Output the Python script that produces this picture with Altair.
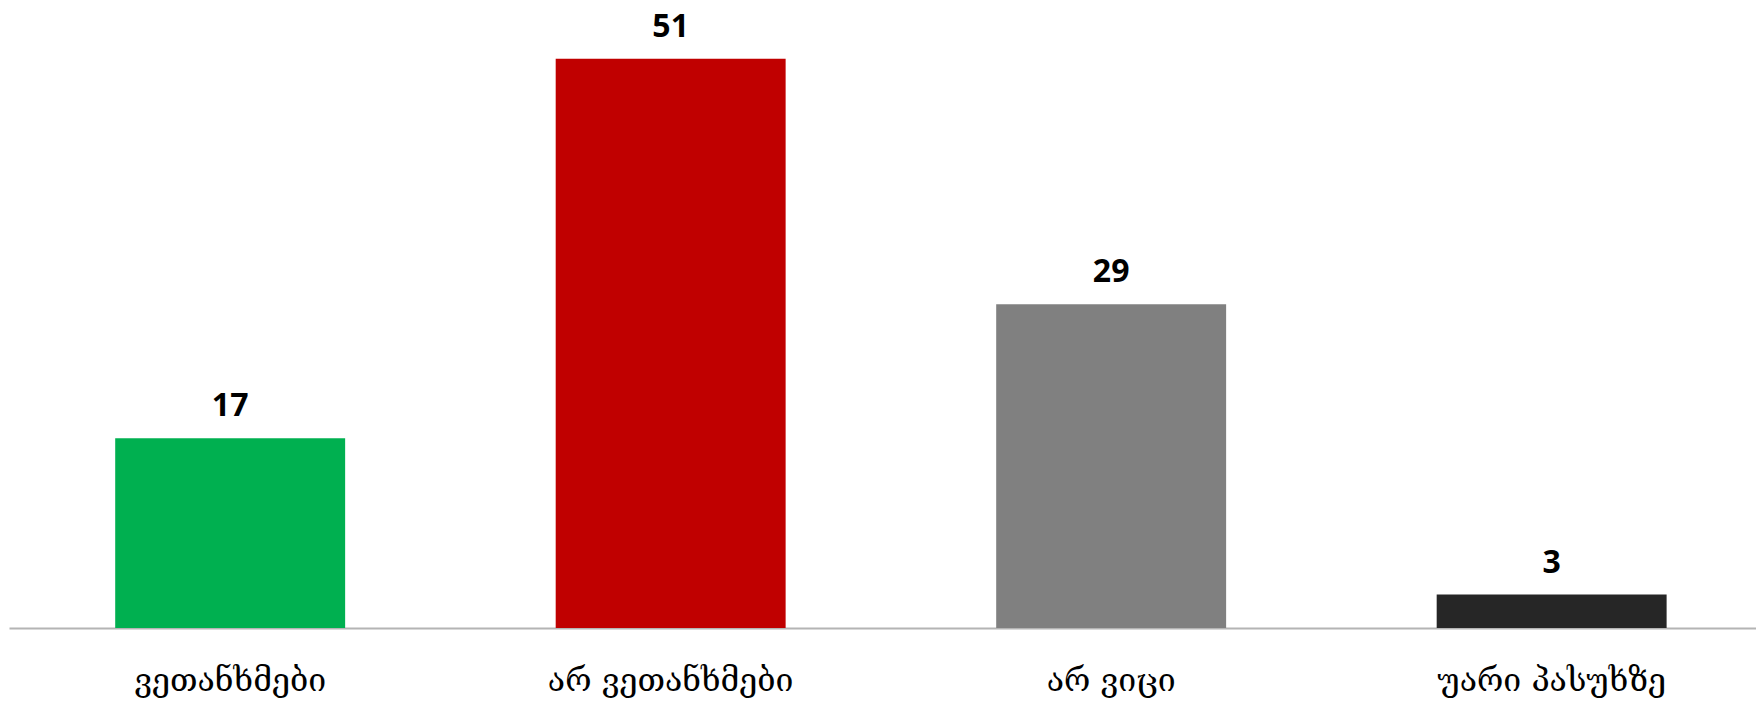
import altair as alt
import pandas as pd

categories = ["ვეთანხმები", "არ ვეთანხმები", "არ ვიცი", "უარი პასუხზე"]
values = [17, 51, 29, 3]
colors = ["#00B050", "#C00000", "#808080", "#262626"]

df = pd.DataFrame({"cat": categories, "val": values, "col": colors})

x = alt.X("cat:N", sort=categories, title=None,
          scale=alt.Scale(paddingInner=0.478, paddingOuter=0.222, align=0.543),
          axis=alt.Axis(labelAngle=0, labelFont="DejaVu Serif", labelFontSize=32,
                        labelColor="#000000", labelPadding=37, ticks=False, labelLimit=0,
                        domainColor="#B4B4B4", domainWidth=2, labelBaseline="top"))
y = alt.Y("val:Q", scale=alt.Scale(domain=[0, 55.55], nice=False), axis=None)

bars = alt.Chart(df).mark_bar().encode(
    x=x, y=y, color=alt.Color("col:N", scale=None)
)
text = alt.Chart(df).mark_text(
    baseline="alphabetic", dy=-22, font="Open Sans", fontWeight="bold", fontSize=32, color="#000000"
).encode(x=alt.X("cat:N", sort=categories), y="val:Q", text="val:Q")

chart = (bars + text).properties(
    width=1747, height=620,
    autosize=alt.AutoSizeParams(type="none"),
    padding={"left": 1, "top": 0, "right": 0, "bottom": 75},
).configure_view(stroke=None).configure_axis(grid=False)

chart.save("out.html", embed_options={"renderer": "svg", "actions": False})
